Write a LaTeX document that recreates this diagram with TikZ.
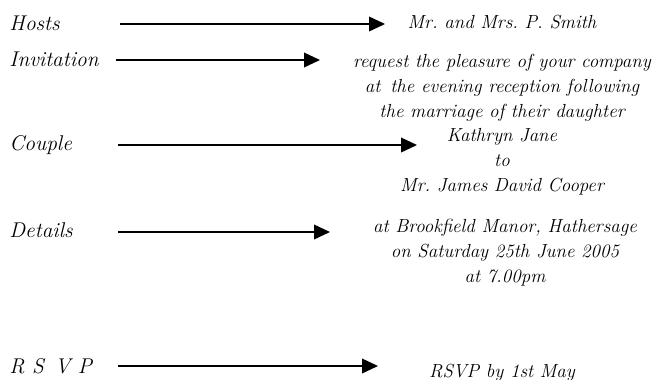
\documentclass[tikz,border=0pt]{standalone}
\usetikzlibrary{arrows.meta}

\tikzset{every picture/.style={line width=0.75pt}}
\tikzset{
  lbl/.style={anchor=base west,inner sep=0.75pt,font=\fontsize{16}{18}\selectfont\itshape},
  txt/.style={anchor=base,inner sep=0.75pt,align=center,font=\fontsize{14.2}{18.75}\selectfont\itshape},
  arr/.style={line width=1.2pt,-{Triangle[length=12pt,width=11pt]}}
}

\begin{document}
\begin{tikzpicture}[x=0.75pt,y=0.75pt,yscale=-1,xscale=1]
\useasboundingbox (0,0) rectangle (656,379);

% Text Node
\node [lbl] (hosts) at (8,30) {Hosts};
% Text Node
\node [lbl] (invitation) at (8,66) {Invitation};
% Text Node
\node [lbl] (couple) at (8,150) {Couple};
% Text Node
\node [lbl] (details) at (8,237) {Details};
% Text Node
\node [lbl] (rsvp) at (8,373) {R S\, V P};

% Text Node (anchor = last line)
\node [txt] (hostsT) at (502,28) {Mr.\ and Mrs.\ P.\ Smith};
% Text Node
\node [txt] (inviteT) at (502,117) {request the pleasure of your company\\at\, the evening reception following\\the marriage of their daughter};
% Text Node
\node [txt] (coupleT) at (502,191) {Kathryn Jane\\to\\Mr.\ James David Cooper};
% Text Node
\node [txt] (detailsT) at (505,282) {at Brookfield Manor, Hathersage\\on Saturday 25th June 2005\\at 7.00pm};
% Text Node
\node [txt] (rsvpT) at (502,377) {RSVP by 1st May};

%Straight Lines
\coordinate (hostsA) at (120,24);
\coordinate (hostsB) at (385,24);
\draw [arr] (hostsA) -- (hostsB);
%Straight Lines
\coordinate (invitationA) at (116,60);
\coordinate (invitationB) at (320,60);
\draw [arr] (invitationA) -- (invitationB);
%Straight Lines
\coordinate (coupleA) at (118,145);
\coordinate (coupleB) at (417,145);
\draw [arr] (coupleA) -- (coupleB);
%Straight Lines
\coordinate (detailsA) at (118,232);
\coordinate (detailsB) at (330,232);
\draw [arr] (detailsA) -- (detailsB);
%Straight Lines
\coordinate (rsvpA) at (118,366);
\coordinate (rsvpB) at (378,366);
\draw [arr] (rsvpA) -- (rsvpB);

\end{tikzpicture}
\end{document}
